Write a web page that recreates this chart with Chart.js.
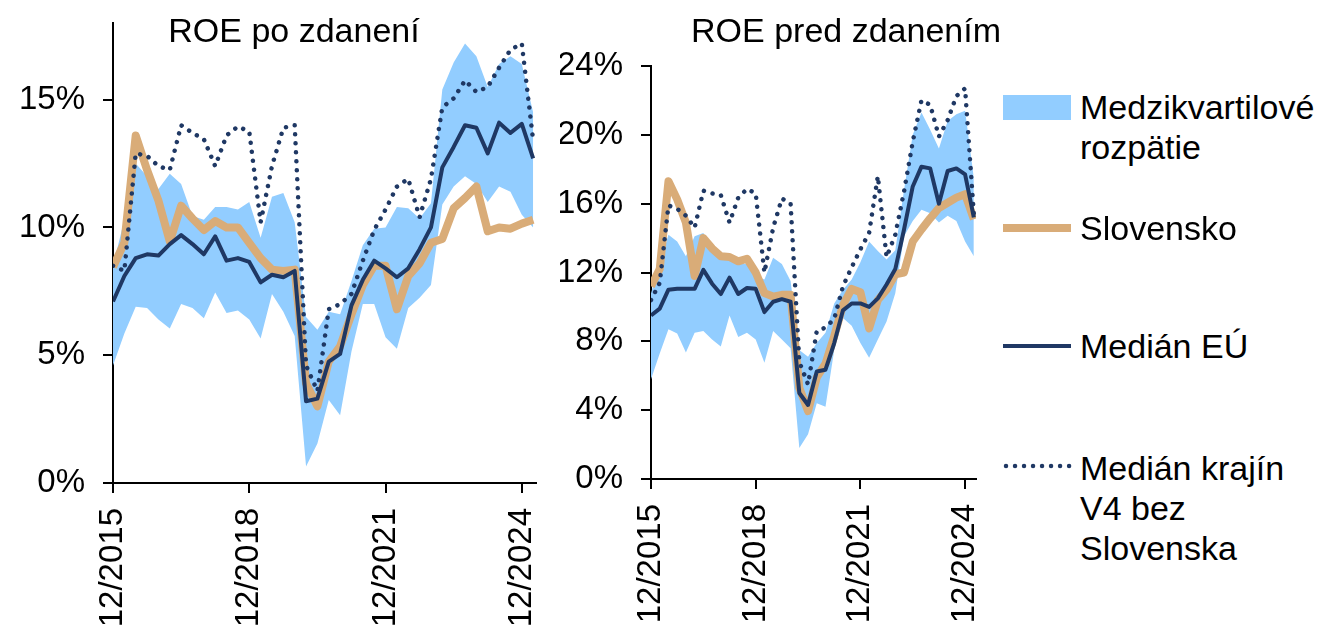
<!DOCTYPE html>
<html>
<head>
<meta charset="utf-8">
<script src="https://cdn.jsdelivr.net/npm/chart.js@4.4.1/dist/chart.umd.min.js"></script>
<style>
  html, body { margin:0; padding:0; background:#fff; }
  body { width:1324px; height:626px; position:relative; overflow:hidden;
         font-family:"Liberation Sans", Arial, sans-serif; color:#000; }
  canvas { position:absolute; top:0; }
  .title { position:absolute; top:13px; width:420px; text-align:center; font-size:34px; line-height:34px; white-space:nowrap; }
  .lg { position:absolute; left:1080px; font-size:34px; line-height:40px; white-space:nowrap; }
  svg.sw { position:absolute; left:1000px; overflow:visible; }
</style>
</head>
<body>
<canvas id="cL" width="560" height="626" style="left:0px"></canvas>
<canvas id="cR" width="440" height="626" style="left:560px"></canvas>
<div class="title" style="left:84px">ROE po zdanení</div>
<div class="title" style="left:636px">ROE pred zdanením</div>

<svg class="sw" style="top:90px" width="80" height="40"><rect x="3" y="5" width="68" height="25" fill="#92CDFF"/></svg>
<div class="lg" style="top:87px">Medzikvartilové<br>rozpätie</div>
<svg class="sw" style="top:208px" width="80" height="40"><line x1="3" y1="20" x2="71" y2="20" stroke="#D9AC78" stroke-width="8"/></svg>
<div class="lg" style="top:208px">Slovensko</div>
<svg class="sw" style="top:326px" width="80" height="40"><line x1="3" y1="20" x2="71" y2="20" stroke="#1F3864" stroke-width="4"/></svg>
<div class="lg" style="top:326px">Medián EÚ</div>
<svg class="sw" style="top:446px" width="80" height="40"><line x1="6" y1="20" x2="71" y2="20" stroke="#1F3864" stroke-width="4.5" stroke-linecap="round" stroke-dasharray="0.01 9"/></svg>
<div class="lg" style="top:448px">Medián krajín<br>V4 bez<br>Slovenska</div>

<script>
// ---- categories (quarters) ----
const quarters = ['12/2015','3/2016','6/2016','9/2016','12/2016','3/2017','6/2017','9/2017','12/2017',
  '3/2018','6/2018','9/2018','12/2018','3/2019','6/2019','9/2019','12/2019','3/2020','6/2020','9/2020',
  '12/2020','3/2021','6/2021','9/2021','12/2021','3/2022','6/2022','9/2022','12/2022','3/2023','6/2023',
  '9/2023','12/2023','3/2024','6/2024','9/2024','12/2024','3/2025'];
const xTickIdx = [0, 12, 24, 36];           // shown tick labels: 12/2015, 12/2018, 12/2021, 12/2024
const yTicksL = [0, 5, 10, 15];
const yTicksR = [0, 4, 8, 12, 16, 20, 24];

// ---- ROE po zdanení (%) ----
const bandLoL = [4.6,5.85,6.9,6.85,6.4,6.05,7.0,6.85,6.45,7.45,6.65,6.75,6.4,5.65,7.4,6.7,5.75,0.65,1.55,3.25,
  2.65,5.15,7.0,7.0,5.7,5.25,6.85,7.25,7.75,10.9,11.6,12.0,11.7,11.0,11.6,11.4,10.5,10.0];
const bandHiL = [8.5,10.3,12.5,12.0,11.5,12.1,11.7,10.45,10.3,10.8,10.8,10.7,11.0,9.6,11.2,11.35,10.2,6.5,6.0,6.7,
  6.6,7.9,9.3,9.95,10.0,10.8,10.75,10.35,10.95,15.4,16.45,17.2,16.7,15.5,16.4,16.7,16.4,14.5];
const skL = [8.45,9.4,13.6,12.25,11.05,9.45,10.85,10.35,9.9,10.25,10.0,10.0,9.4,8.8,8.35,8.3,8.35,3.9,3.0,4.75,
  5.35,6.6,7.75,8.5,8.5,6.8,8.1,8.6,9.4,9.55,10.75,11.15,11.6,9.85,10.0,9.95,10.15,10.3];
const euL = [7.1,8.1,8.8,8.95,8.9,9.35,9.7,9.35,8.95,9.65,8.7,8.8,8.65,7.85,8.15,8.05,8.3,3.2,3.3,4.75,
  5.05,6.95,7.95,8.7,8.4,8.05,8.4,9.15,10.0,12.35,13.15,14.0,13.9,12.9,14.1,13.7,14.05,12.7];
const v4L = [8.5,8.3,12.9,12.8,12.4,12.25,14.0,13.7,13.45,12.4,13.6,13.95,13.75,10.2,12.4,13.9,14.0,4.6,3.6,6.8,
  7.0,7.4,8.7,9.9,10.7,11.6,11.9,10.4,11.9,14.7,15.05,15.75,15.3,15.5,16.25,16.95,17.2,13.4];

// ---- ROE pred zdanením (%) ----
const bandLoR = [5.8,7.3,8.7,8.45,7.35,8.5,8.6,8.1,7.7,9.5,8.25,8.5,8.1,6.75,8.6,8.1,7.6,1.8,2.6,4.4,
  4.2,7.5,9.35,8.9,7.9,7.05,8.1,9.15,10.8,14.1,15.0,15.65,15.45,14.9,15.3,15.0,13.8,12.95];
const bandHiR = [10.8,12.5,14.2,13.8,12.95,14.1,14.3,13.35,12.75,12.75,12.55,12.5,11.8,11.6,12.85,12.5,11.5,7.5,7.1,7.9,
  8.5,10.2,11.0,11.6,12.6,13.8,13.25,12.75,13.3,16.8,20.0,21.3,20.3,19.2,20.8,21.2,21.4,17.5];
const skR = [11.2,12.2,17.3,16.25,14.9,11.8,14.0,13.4,12.95,12.9,12.65,12.8,12.0,10.8,10.6,10.7,10.7,5.3,3.95,5.9,
  6.7,8.3,10.1,11.05,10.85,8.75,10.4,11.0,11.9,12.0,13.8,14.5,15.15,15.75,16.05,16.35,16.55,15.1];
const euR = [9.5,9.9,11.0,11.05,11.05,11.05,12.15,11.35,10.75,11.7,10.75,11.1,11.05,9.7,10.3,10.45,10.3,5.0,4.3,6.25,
  6.35,7.9,9.8,10.2,10.2,10.0,10.5,11.3,12.2,14.5,17.0,18.15,18.05,16.0,17.9,18.05,17.7,15.2];
const v4R = [10.4,11.4,15.9,15.7,15.3,14.6,16.75,16.6,16.5,14.9,16.35,16.85,16.6,12.0,14.6,16.3,16.0,6.8,5.5,8.6,
  8.8,9.3,11.2,12.3,13.35,14.3,17.6,12.9,14.2,16.7,19.6,22.0,21.75,19.9,20.85,22.25,22.7,15.4];

const FONT = { family: '"Liberation Sans", Arial, sans-serif', size: 33 };
const C_BAND = '#92CDFF', C_SK = '#D9AC78', C_EU = '#1F3864';

function pts(arr) { return arr.map((v, i) => ({ x: i, y: v })); }

function makeChart(id, d, yMax, yTicks, yWidth, padTop, xHeight) {
  const none = 'rgba(0,0,0,0)';
  new Chart(document.getElementById(id), {
    type: 'line',
    data: {
      datasets: [
        { data: pts(d.lo), borderColor: none, borderWidth: 0, pointRadius: 0, fill: false, order: 5 },
        { data: pts(d.hi), borderColor: none, borderWidth: 0, pointRadius: 0, fill: '-1', backgroundColor: C_BAND, order: 4 },
        { data: pts(d.sk), borderColor: C_SK, borderWidth: 8, pointRadius: 0, borderJoinStyle: 'round', order: 3 },
        { data: pts(d.eu), borderColor: C_EU, borderWidth: 4, pointRadius: 0, borderJoinStyle: 'round', order: 2 },
        { data: pts(d.v4), borderColor: C_EU, borderWidth: 4.5, pointRadius: 0, borderDash: [0.01, 9],
          borderCapStyle: 'round', order: 1 }
      ]
    },
    options: {
      responsive: false, animation: false, devicePixelRatio: 1,
      layout: { padding: { top: padTop, right: 24, left: 0, bottom: 0 } },
      plugins: { legend: { display: false }, title: { display: false }, tooltip: { enabled: false } },
      elements: { line: { tension: 0 } },
      scales: {
        x: {
          type: 'linear', min: 0, max: 37.25,
          afterBuildTicks: s => { s.ticks = xTickIdx.map(v => ({ value: v })); },
          afterFit: s => { s.height = xHeight; s.paddingLeft = 0; s.paddingRight = 0; },
          ticks: { autoSkip: false, minRotation: 90, maxRotation: 90, padding: 15, color: '#000', font: FONT,
                   callback: v => quarters[v] },
          grid: { drawOnChartArea: false, drawTicks: true, tickLength: 10, color: '#000', lineWidth: 2 },
          border: { display: true, color: '#000', width: 2 }
        },
        y: {
          min: 0, max: yMax,
          afterBuildTicks: s => { s.ticks = yTicks.map(v => ({ value: v })); },
          afterFit: s => { s.width = yWidth; s.paddingTop = 0; s.paddingBottom = 0; },
          ticks: { padding: 18, color: '#000', font: FONT, callback: v => v + '%' },
          grid: { drawOnChartArea: false, drawTicks: true, tickLength: 10, color: '#000', lineWidth: 2 },
          border: { display: true, color: '#000', width: 2 }
        }
      }
    }
  });
}

makeChart('cL', { lo: bandLoL, hi: bandHiL, sk: skL, eu: euL, v4: v4L }, 18, yTicksL, 113, 23, 143);
makeChart('cR', { lo: bandLoR, hi: bandHiR, sk: skR, eu: euR, v4: v4R }, 24, yTicksR, 91, 66, 147);
</script>
</body>
</html>
